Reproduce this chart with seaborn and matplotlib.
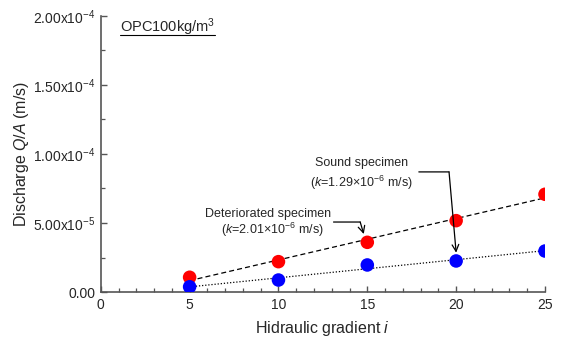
import numpy as np
import pandas as pd
import matplotlib
matplotlib.use("Agg")
import matplotlib.pyplot as plt
from matplotlib.ticker import FixedLocator, MultipleLocator, FixedFormatter
from matplotlib.lines import Line2D
import seaborn as sns

gradient = [5, 10, 15, 20, 25]
deteriorated = [1.07e-5, 2.20e-5, 3.60e-5, 5.17e-5, 7.08e-5]
sound = [3.8e-6, 8.7e-6, 1.96e-5, 2.25e-5, 2.97e-5]
y_ticks = [0, 5e-5, 1e-4, 1.5e-4, 2e-4]
y_ticklabels = ["0.00", "5.00x10$^{-5}$", "1.00x10$^{-4}$", "1.50x10$^{-4}$", "2.00x10$^{-4}$"]
x_ticks = [0, 5, 10, 15, 20, 25]

df_d = pd.DataFrame({"i": gradient, "q": deteriorated})
df_s = pd.DataFrame({"i": gradient, "q": sound})

sns.set_theme(style="ticks")
plt.rcParams["font.family"] = ["Liberation Sans", "DejaVu Sans"]
plt.rcParams["mathtext.fontset"] = "custom"
plt.rcParams["mathtext.rm"] = "Liberation Sans"
plt.rcParams["mathtext.it"] = "Liberation Sans:italic"
plt.rcParams["mathtext.default"] = "regular"

fig = plt.figure(figsize=(5.63, 3.38), dpi=100)
ax = fig.add_axes([0.179, 0.136, 0.789, 0.817])

sns.regplot(data=df_d, x="i", y="q", scatter=False, ci=None, ax=ax,
            line_kws=dict(color="black", ls=(0, (4, 2.5)), lw=0.9))
sns.regplot(data=df_s, x="i", y="q", scatter=False, ci=None, ax=ax,
            line_kws=dict(color="black", ls=(0, (1, 1.5)), lw=0.9))
sns.scatterplot(data=df_d, x="i", y="q", color="#ff0000", s=95, edgecolor="none", ax=ax, zorder=3)
sns.scatterplot(data=df_s, x="i", y="q", color="#0000ff", s=95, edgecolor="none", ax=ax, zorder=3)

ax.set_xlim(0, 25)
ax.set_ylim(0, 2e-4)
ax.xaxis.set_major_locator(FixedLocator(x_ticks))
ax.xaxis.set_minor_locator(MultipleLocator(1))
ax.yaxis.set_major_locator(FixedLocator(y_ticks))
ax.yaxis.set_major_formatter(FixedFormatter(y_ticklabels))
ax.yaxis.set_minor_locator(MultipleLocator(2.5e-5))

spine_col = "#555555"
for s in ["top", "right"]:
    ax.spines[s].set_visible(False)
for s in ["left", "bottom"]:
    ax.spines[s].set_color(spine_col)
    ax.spines[s].set_linewidth(1.2)
ax.tick_params(which="both", direction="in", color=spine_col, labelsize=10, pad=4,
               bottom=True, left=True, top=False, right=False)
ax.tick_params(which="major", length=4.5, width=1)
ax.tick_params(which="minor", length=3, width=0.9)

ax.set_xlabel("Hidraulic gradient $\\it{i}$", fontsize=11.5, labelpad=5)
ax.set_ylabel("Discharge $\\it{Q/A}$ (m/s)", fontsize=11.5)
ax.yaxis.set_label_coords(-0.158, 0.5)

ax.text(0.043, 0.942, "OPC100kg/m$^3$", transform=ax.transAxes, fontsize=10.5,
        ha="left", va="baseline")
ax.add_line(Line2D([0.043, 0.257], [0.931, 0.931], transform=ax.transAxes, color="black", lw=0.8))

fs = 9
ax.text(14.65, 9.35e-5, "Sound specimen", fontsize=fs, ha="center", va="center")
ax.text(14.65, 7.9e-5, "($\\it{k}$=1.29×10$^{-6}$ m/s)", fontsize=fs, ha="center", va="center")
ax.text(9.4, 5.65e-5, "Deteriorated specimen", fontsize=fs, ha="center", va="center")
ax.text(9.65, 4.5e-5, "($\\it{k}$=2.01×10$^{-6}$ m/s)", fontsize=fs, ha="center", va="center")

ax.annotate("", xy=(19.6, 8.7e-5), xytext=(17.9, 8.7e-5),
            arrowprops=dict(arrowstyle="-", color="black", lw=0.9, shrinkA=0, shrinkB=0))
ax.annotate("", xy=(20.0, 2.85e-5), xytext=(19.6, 8.7e-5),
            arrowprops=dict(arrowstyle="->", color="black", lw=0.9, shrinkA=0, shrinkB=0))
ax.annotate("", xy=(14.6, 5.07e-5), xytext=(13.1, 5.07e-5),
            arrowprops=dict(arrowstyle="-", color="black", lw=0.9, shrinkA=0, shrinkB=0))
ax.annotate("", xy=(14.8, 4.2e-5), xytext=(14.6, 5.07e-5),
            arrowprops=dict(arrowstyle="->", color="black", lw=0.9, shrinkA=0, shrinkB=0))

fig.savefig("out.png", dpi=100)
